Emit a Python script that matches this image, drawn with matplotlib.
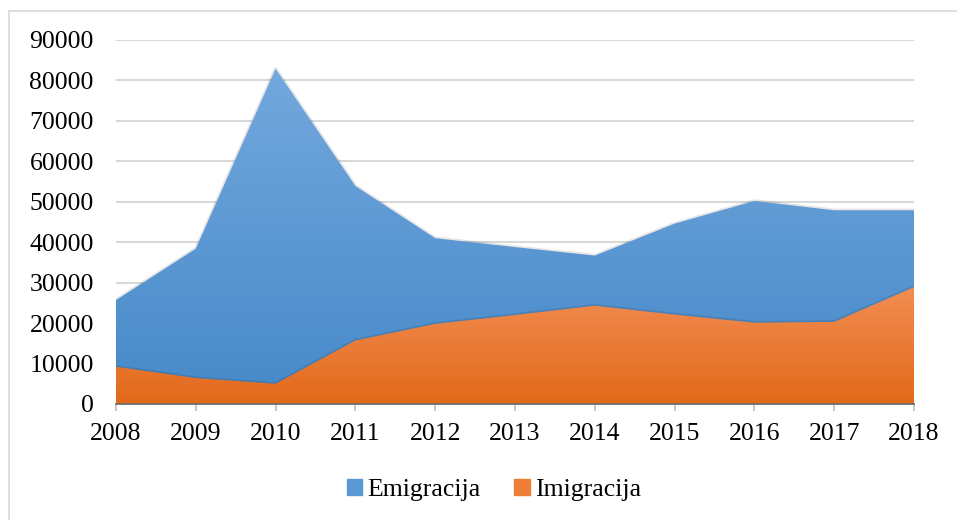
import numpy as np
import matplotlib.pyplot as plt
from matplotlib.colors import LinearSegmentedColormap
from matplotlib.patches import Rectangle

years = [2008, 2009, 2010, 2011, 2012, 2013, 2014, 2015, 2016, 2017, 2018]
emigracija = [25700, 38400, 82900, 53900, 41000, 38800, 36700, 44600, 50200, 47900, 47900]
imigracija = [9200, 6400, 5000, 15700, 19800, 22000, 24300, 22100, 20100, 20300, 28900]

plt.rcParams['font.family'] = ['Liberation Serif', 'DejaVu Serif']
FS = 18.5

fig = plt.figure(figsize=(9.57, 5.2), dpi=100)
ax = fig.add_axes([116 / 957, 116 / 520, 798 / 957, 364 / 520])

# outer chart border
fig.patches.append(Rectangle((9 / 957, -0.01), 1.0, (509 / 520) + 0.01,
                             transform=fig.transFigure, fill=False,
                             edgecolor='#d9d9d9', linewidth=1.2))


def gradient_area(ax, x, y, top_color, bottom_color, z):
    poly = ax.fill_between(x, 0, y, color='none', linewidth=0, zorder=z)
    cmap = LinearSegmentedColormap.from_list('g', [bottom_color, top_color])
    grad = np.linspace(0, 1, 256).reshape(-1, 1)
    im = ax.imshow(grad, cmap=cmap, aspect='auto', origin='lower',
                   extent=[x[0], x[-1], 0, max(y)], zorder=z)
    path = poly.get_paths()[0]
    im.set_clip_path(path, transform=ax.transData)
    # soft shadow outline
    ax.plot(x, y, color='#000000', alpha=0.1, linewidth=2.5, zorder=z - 0.1)
    return im


gradient_area(ax, years, emigracija, '#73a8dd', '#4689c9', 2)
gradient_area(ax, years, imigracija, '#f28d52', '#e2691a', 3)

ax.set_xlim(2008, 2018)
ax.set_ylim(0, 90000)
ax.set_yticks(np.arange(0, 90001, 10000))
ax.set_xticks(years)
ax.set_yticklabels([str(v) for v in range(0, 90001, 10000)])
ax.tick_params(axis='y', length=0, labelsize=FS, pad=16)
ax.tick_params(axis='x', length=5, color='#bfbfbf', width=1.2, labelsize=FS, pad=9)
ax.grid(axis='y', color='#d9d9d9', linewidth=1.5, zorder=0)
ax.set_axisbelow(True)
for s in ['top', 'right', 'left']:
    ax.spines[s].set_visible(False)
ax.spines['bottom'].set_color('#6f6f6f')
ax.spines['bottom'].set_linewidth(1.3)
ax.spines['bottom'].set_zorder(5)

handles = [Rectangle((0, 0), 1, 1, color='#5a98d6'),
           Rectangle((0, 0), 1, 1, color='#ee7d35')]
fig.legend(handles, ['Emigracija', 'Imigracija'], loc='center',
           bbox_to_anchor=(494 / 957, 1 - 490 / 520), ncol=2, frameon=False,
           fontsize=FS, handlelength=0.6, handleheight=0.6,
           handletextpad=0.2, columnspacing=1.3)

fig.savefig('out.png', dpi=100)
